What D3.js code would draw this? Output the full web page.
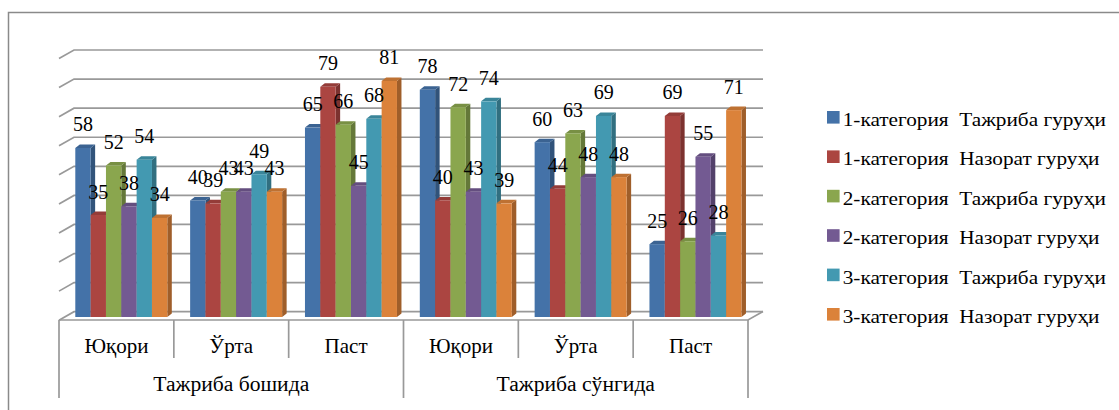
<!DOCTYPE html>
<html>
<head>
<meta charset="utf-8">
<script src="https://cdn.jsdelivr.net/npm/d3@7"></script>
<style>
  body { margin: 0; background: #fff; }
  svg { display: block; }
</style>
</head>
<body>
<svg id="chart" width="1119" height="410"></svg>
<script>
// categories and groups
const categories = ["Юқори", "Ўрта", "Паст", "Юқори", "Ўрта", "Паст"];
const groups = ["Тажриба бошида", "Тажриба сўнгида"];
const seriesNames = [
  "1-категория  Тажриба гуруҳи",
  "1-категория  Назорат гуруҳи",
  "2-категория  Тажриба гуруҳи",
  "2-категория  Назорат гуруҳи",
  "3-категория  Тажриба гуруҳи",
  "3-категория  Назорат гуруҳи"
];
// one array per series, values per category
const s1Tajriba = [58, 40, 65, 78, 60, 25];
const s1Nazorat = [35, 39, 79, 40, 44, 69];
const s2Tajriba = [52, 43, 66, 72, 63, 26];
const s2Nazorat = [38, 43, 45, 43, 48, 55];
const s3Tajriba = [54, 49, 68, 74, 69, 28];
const s3Nazorat = [34, 43, 81, 39, 48, 71];
const seriesValues = [s1Tajriba, s1Nazorat, s2Tajriba, s2Nazorat, s3Tajriba, s3Nazorat];
const colors = ["#4472a8", "#ab4541", "#8aa64e", "#735a92", "#4399b1", "#db823a"];
const gridTicks = d3.range(0, 91, 10);
const FONT = "Liberation Serif";

const svg = d3.select("#chart");

// outer frame (runs off the right / bottom edge)
svg.append("path")
  .attr("d", "M8.5,420 V12.5 H1130")
  .attr("fill", "none").attr("stroke", "#8a8a8a").attr("stroke-width", 1.5);

// scales: front face of the bars, back wall for gridlines
const x = d3.scaleBand().domain(d3.range(categories.length)).range([59, 748]);
const xs = d3.scaleBand().domain(d3.range(seriesNames.length)).range([16.3, 16.3 + 92]);
const y = d3.scaleLinear().domain([0, 90]).range([317, 317 - 90 * 2.914]);
const yBack = d3.scaleLinear().domain([0, 90]).range([311.7, 50]);
const depth = { dx: 15, dy: -8.5 };
const barDepth = { dx: 4.5, dy: -3.5 };

// gridlines on side wall + back wall
const grid = svg.append("g").attr("class", "grid");
grid.selectAll("path")
  .data(gridTicks)
  .enter()
  .append("path")
  .attr("d", d => `M${59},${yBack(d) - depth.dy} L${59 + depth.dx},${yBack(d)} H763`)
  .attr("fill", "none")
  .attr("stroke", "#999")
  .attr("stroke-width", 1.7);

// floor front edge + right diagonal
svg.append("path")
  .attr("d", `M59,320 H748 L${748 + depth.dx},${320 + depth.dy}`)
  .attr("fill", "none").attr("stroke", "#999").attr("stroke-width", 1.7);

// bars
const barGroup = svg.append("g").attr("class", "bars");
const bars = [];
categories.forEach((c, ci) => {
  seriesValues.forEach((vals, si) => {
    bars.push({ ci, si, v: vals[ci] });
  });
});
barGroup.selectAll("g")
  .data(bars)
  .enter()
  .append("g")
  .each(function (d) {
    const g = d3.select(this);
    const x0 = x(d.ci) + xs(d.si);
    const w = xs.bandwidth();
    const yt = y(d.v), yb = y(0);
    const col = d3.color(colors[d.si]);
    // side face
    g.append("path")
      .attr("d", `M${x0 + w},${yt} L${x0 + w + barDepth.dx},${yt + barDepth.dy} L${x0 + w + barDepth.dx},${yb + barDepth.dy} L${x0 + w},${yb}Z`)
      .attr("fill", col.darker(0.9));
    // top face
    g.append("path")
      .attr("d", `M${x0},${yt} L${x0 + barDepth.dx},${yt + barDepth.dy} L${x0 + w + barDepth.dx},${yt + barDepth.dy} L${x0 + w},${yt}Z`)
      .attr("fill", col.darker(0.4));
    // front face
    g.append("rect")
      .attr("x", x0).attr("y", yt)
      .attr("width", w).attr("height", yb - yt)
      .attr("fill", col);
  });

// data labels
svg.append("g").selectAll("text")
  .data(bars)
  .enter()
  .append("text")
  .attr("x", d => x(d.ci) + xs(d.si) + xs.bandwidth() / 2)
  .attr("y", d => y(d.v) - 16.5)
  .attr("text-anchor", "middle")
  .attr("font-family", FONT)
  .attr("font-size", 20)
  .attr("fill", "#000")
  .text(d => d.v);

// category axis (two levels)
const axis = svg.append("g").attr("class", "axis");
axis.selectAll("line.sep")
  .data(d3.range(categories.length + 1))
  .enter()
  .append("line")
  .attr("x1", i => i < categories.length ? x(i) : x.range()[1])
  .attr("x2", i => i < categories.length ? x(i) : x.range()[1])
  .attr("y1", 320)
  .attr("y2", i => (i % 3 === 0) ? 398 : 358)
  .attr("stroke", "#999").attr("stroke-width", 1.7);

axis.selectAll("text.cat")
  .data(categories)
  .enter()
  .append("text")
  .attr("x", (d, i) => x(i) + x.bandwidth() / 2)
  .attr("y", 353)
  .attr("text-anchor", "middle")
  .attr("font-family", FONT)
  .attr("font-size", 21)
  .text(d => d);

axis.selectAll("text.grp")
  .data(groups)
  .enter()
  .append("text")
  .attr("x", (d, i) => x(i * 3) + x.bandwidth() * 1.5)
  .attr("y", 391)
  .attr("text-anchor", "middle")
  .attr("font-family", FONT)
  .attr("font-size", 21.6)
  .text(d => d);

// legend
const legend = svg.append("g").attr("class", "legend")
  .selectAll("g")
  .data(seriesNames)
  .enter()
  .append("g")
  .attr("transform", (d, i) => `translate(827,${117.3 + i * 39.4})`);
legend.append("rect")
  .attr("x", 0).attr("y", -6.3).attr("width", 12.6).attr("height", 12.6)
  .attr("fill", (d, i) => colors[i]);
legend.append("text")
  .attr("transform", "translate(15.7,8.7) scale(1.15,1)")
  .attr("font-family", FONT)
  .attr("font-size", 18.5)
  .attr("xml:space", "preserve")
  .style("white-space", "pre")
  .text(d => d);
</script>
</body>
</html>
